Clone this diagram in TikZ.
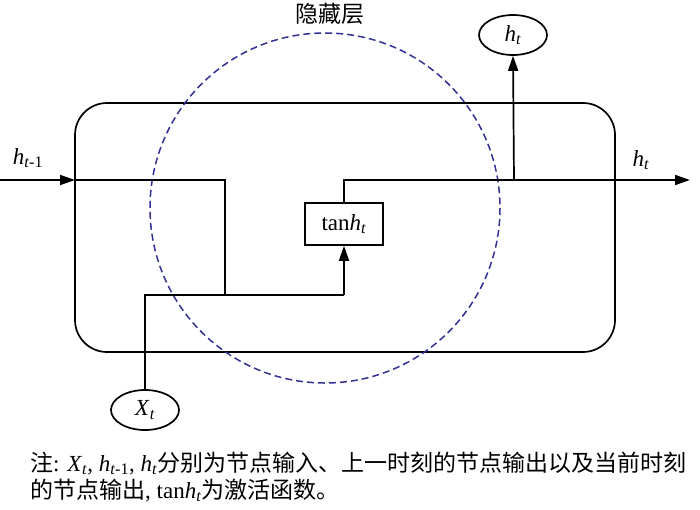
\documentclass[tikz,border=0pt]{standalone}
\usepackage{fontspec}
\setmainfont{Liberation Serif}
\newfontfamily\cjk{Noto Sans CJK SC}
\usetikzlibrary{arrows.meta,shapes.geometric}
\newcommand{\iv}[1]{\textit{#1}}
\newcommand{\isub}[1]{\textsubscript{#1}}
\newcommand{\bigf}{\fontsize{23}{27}\selectfont}
\tikzset{
  wire/.style={line width=1.7pt},
  arr/.style={wire,-{Triangle[length=15pt,width=10pt]}},
  oval/.style={ellipse,draw,line width=1.7pt,minimum width=68pt,minimum height=40pt,inner sep=0pt,font=\bigf},
  lbl/.style={font=\bigf,inner sep=0pt},
  note/.style={font=\bigf,inner sep=0pt,anchor=base west},
}
\begin{document}
\begin{tikzpicture}[x=1pt,y=-1pt]
\useasboundingbox (0,0) rectangle (700,509);
% rounded cell
\draw[wire,rounded corners=32pt] (75,103) rectangle (615,352);
% hidden layer circle
\draw[line width=1.5pt,color={rgb,255:red,50;green,50;blue,150},dash pattern=on 7pt off 4pt] (325,208) circle (175);
\node[lbl,font=\cjk\bigf] (title) at (330,14) {隐藏层};
% nodes
\node[draw,line width=1.7pt,minimum width=78pt,minimum height=42pt,inner sep=0pt,font=\bigf] (tanh) at (344,224) {tan\iv{h}\isub{\iv{t}}};
\node[oval] (ht) at (513,35) {\iv{h}\isub{\iv{t}}};
\node[oval] (xt) at (145,410) {\iv{X}\isub{\iv{t}}};
\coordinate (inL) at (0,180);
\coordinate (boxL) at (75,180);
\coordinate (j1) at (225,180);
\coordinate (j2) at (225,295);
\coordinate (c1) at (145,295);
\coordinate (c2) at (344,295);
\coordinate (up) at (344,180);
\coordinate (split) at (514,180);
\coordinate (outR) at (690,180);
% labels
\node[lbl] (hprev) at (28,158) {\iv{h}\isub{\iv{t}-1}};
\node[lbl] (hnext) at (641,160) {\iv{h}\isub{\iv{t}}};
% connectors
\draw[arr] (inL) -- (boxL);
\draw[wire] (boxL) -- (j1) -- (j2);
\draw[wire] (xt.north) -- (c1) -- (c2);
\draw[arr] (c2) -- (tanh.south);
\draw[wire] (tanh.north) -- (up) -- (split);
\draw[arr] (split) -- (outR);
\draw[arr] (split) -- (ht.south);
% note
\node[note] (n1) at (30,471) {{\cjk 注}: \iv{X}\isub{\iv{t}}, \iv{h}\isub{\iv{t}-1}, \iv{h}\isub{\iv{t}}{\cjk 分别为节点输入、上一时刻的节点输出以及当前时刻}};
\node[note] (n2) at (30,498) {{\cjk 的节点输出}, tan\iv{h}\isub{\iv{t}}{\cjk 为激活函数。}};
\end{tikzpicture}
\end{document}
